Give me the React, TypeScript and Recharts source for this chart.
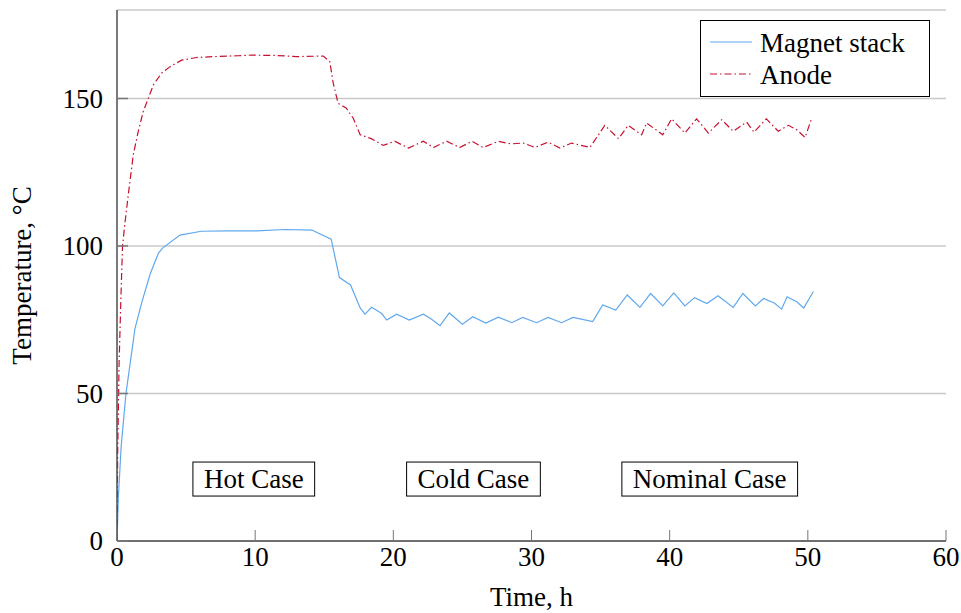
import React from 'react';
import { LineChart, Line, XAxis, YAxis, CartesianGrid, Legend, ReferenceDot } from 'recharts';

const magnetTime = [0, 0.1, 0.3, 0.65, 1.3, 1.8, 2.4, 3.0, 3.3, 4.56, 6.1, 8.0, 10.1, 12.2, 14.1, 15.5, 16.1, 16.9, 17.6, 17.95, 18.43, 19.16, 19.52, 20.24, 21.15, 22.17, 22.77, 23.38, 24.05, 25.0, 25.74, 26.7, 27.6, 28.57, 29.36, 30.37, 31.2, 32.18, 33.0, 34.43, 35.15, 36.1, 36.93, 37.85, 38.62, 39.5, 40.3, 41.1, 41.8, 42.7, 43.5, 44.6, 45.3, 46.2, 46.8, 47.6, 48.1, 48.5, 49.2, 49.7, 50.4];
const magnetTemp = [0, 15, 32, 50, 72, 81, 90.5, 97.6, 99.3, 103.7, 105, 105.1, 105.1, 105.6, 105.4, 102.3, 89.3, 86.8, 79, 76.9, 79.2, 77.1, 74.9, 76.9, 74.9, 76.9, 75.2, 73, 77.3, 73.5, 76, 73.9, 75.9, 74, 75.8, 74, 75.8, 74, 75.8, 74.4, 80, 78.3, 83.4, 79.2, 83.9, 79.7, 84.1, 79.7, 82.5, 80.5, 83.1, 79.2, 83.9, 79.7, 82.2, 80.6, 78.6, 82.8, 81.1, 79, 84.6];

const anodeTime = [0, 0.05, 0.15, 0.28, 0.4, 0.58, 0.82, 1.18, 1.54, 1.9, 2.27, 2.63, 3.23, 3.84, 4.68, 5.77, 6.97, 8.78, 9.75, 11.5, 13.0, 14.93, 15.4, 15.65, 16.0, 16.6, 17.1, 17.6, 18.4, 19.27, 20.1, 21.1, 22.17, 22.9, 23.86, 24.8, 25.7, 26.5, 27.6, 28.5, 29.4, 30.25, 31.2, 32.06, 32.9, 34.23, 35.3, 36.3, 37.0, 37.97, 38.33, 39.5, 40.14, 41.1, 41.95, 42.8, 43.77, 44.6, 45.57, 46.1, 47.0, 47.86, 48.6, 49.2, 49.8, 50.3];
const anodeTemp = [0, 30, 60, 82, 100, 108, 117.5, 131, 138.9, 145.6, 150.1, 154.6, 158.6, 160.8, 163, 163.9, 164.2, 164.5, 164.7, 164.6, 164.2, 164.4, 162.5, 155.2, 148.4, 146.7, 143.3, 137.7, 136.4, 134.1, 135.5, 133.2, 135.5, 133.4, 135.5, 133.4, 135.5, 133.4, 135.5, 134.6, 134.9, 133.4, 135.2, 133.2, 134.9, 133.4, 140.9, 136.4, 140.9, 137.7, 141.7, 137.7, 143.1, 138.3, 143.1, 138.3, 142.8, 138.9, 142, 138.6, 143.1, 138.9, 140.9, 139.4, 136.8, 143.6];

const xTicks = [0, 10, 20, 30, 40, 50, 60];
const yTicks = [0, 50, 100, 150];

const caseLabels = ['Hot Case', 'Cold Case', 'Nominal Case'];
const caseTimes = [9.9, 25.8, 42.9];
const caseTemps = [21, 21, 21];

const seriesNames = ['Magnet stack', 'Anode'];

const magnetData = magnetTime.map((t, i) => ({ time: t, temp: magnetTemp[i] }));
const anodeData = anodeTime.map((t, i) => ({ time: t, temp: anodeTemp[i] }));

const FONT = "'Liberation Serif', 'Times New Roman', serif";
const FS = 27;
const BLUE = '#5fa8ee';
const RED = '#c8102e';
const COLORS = [BLUE, RED];
const DASHES = ['', '7 3 1.5 3'];
const AXIS = '#4d4d4d';
const TICK_MARGIN = 4;

function measure(text: string): number {
  try {
    const c = document.createElement('canvas');
    const ctx = c.getContext('2d');
    if (ctx) {
      ctx.font = `${FS}px ${FONT}`;
      return ctx.measureText(text).width;
    }
  } catch (e) {}
  return text.length * FS * 0.45;
}

const XTick = (props: any) => {
  const { x, y, payload } = props;
  const axisY = y - TICK_MARGIN;
  return (
    <g>
      <line x1={x} x2={x} y1={axisY} y2={axisY - 11} stroke="#777" strokeWidth={1} />
      <text x={x} y={axisY + 25} textAnchor="middle" fontFamily={FONT} fontSize={FS} fill="#000">
        {payload.value}
      </text>
    </g>
  );
};

const YTick = (props: any) => {
  const { x, y, payload } = props;
  const axisX = x + TICK_MARGIN;
  return (
    <g>
      <line x1={axisX} x2={axisX + 11} y1={y} y2={y} stroke="#777" strokeWidth={1.5} />
      <text x={axisX - 14} y={y + 9} textAnchor="end" fontFamily={FONT} fontSize={FS} fill="#000">
        {payload.value}
      </text>
    </g>
  );
};

const CaseBox = (props: any) => {
  const { cx, cy, text } = props;
  if (cx == null || cy == null) return null;
  const w = measure(text) + 22;
  const h = 34;
  return (
    <g>
      <rect x={cx - w / 2} y={cy - h / 2} width={w} height={h} fill="#fff" stroke="#000" strokeWidth={1} />
      <text x={cx} y={cy + 9} textAnchor="middle" fontFamily={FONT} fontSize={FS} fill="#000">
        {text}
      </text>
    </g>
  );
};

const LegendBox = () => (
  <svg width={230} height={77} style={{ display: 'block' }}>
    <rect x={0.5} y={0.5} width={229} height={76} fill="#fff" stroke="#000" strokeWidth={1} />
    {seriesNames.map((name, i) => (
      <g key={name}>
        <line
          x1={10}
          x2={52}
          y1={22 + i * 32}
          y2={22 + i * 32}
          stroke={COLORS[i]}
          strokeWidth={1.2}
          strokeDasharray={DASHES[i] || undefined}
        />
        <text x={60} y={32 + i * 32} fontFamily={FONT} fontSize={FS} fill="#000">
          {name}
        </text>
      </g>
    ))}
  </svg>
);

const YLabel = (props: any) => {
  const vb = props.viewBox || {};
  const x = 22;
  const y = (vb.y || 0) + (vb.height || 0) / 2;
  return (
    <text
      x={x}
      y={y}
      transform={`rotate(-90, ${x}, ${y})`}
      textAnchor="middle"
      dominantBaseline="central"
      fontFamily={FONT}
      fontSize={FS}
      fill="#000"
    >
      Temperature, °C
    </text>
  );
};

const XLabel = (props: any) => {
  const vb = props.viewBox || {};
  const x = (vb.x || 0) + (vb.width || 0) / 2;
  return (
    <text x={x} y={606} textAnchor="middle" fontFamily={FONT} fontSize={FS} fill="#000">
      Time, h
    </text>
  );
};

export default function App() {
  return (
    <div style={{ position: 'absolute', left: 0, top: 0, background: '#fff' }}>
      <LineChart width={961} height={613} margin={{ top: 10, right: 15, left: 0, bottom: 0 }}>
        <CartesianGrid horizontal vertical={false} stroke="#c8c8c8" strokeWidth={1.5} />
        <XAxis
          dataKey="time"
          type="number"
          domain={[0, 60]}
          ticks={xTicks}
          allowDataOverflow
          height={72}
          tickSize={0}
          tickMargin={TICK_MARGIN}
          tickLine={false}
          axisLine={{ stroke: AXIS, strokeWidth: 1.5 }}
          tick={<XTick />}
          label={<XLabel />}
          interval={0}
        />
        <YAxis
          dataKey="temp"
          type="number"
          domain={[0, 180]}
          ticks={yTicks}
          allowDataOverflow
          width={117}
          tickSize={0}
          tickMargin={TICK_MARGIN}
          tickLine={false}
          axisLine={{ stroke: AXIS, strokeWidth: 1.5 }}
          tick={<YTick />}
          label={<YLabel />}
          interval={0}
        />
        <Line
          data={magnetData}
          dataKey="temp"
          name={seriesNames[0]}
          stroke={BLUE}
          strokeWidth={1.2}
          dot={false}
          activeDot={false}
          type="linear"
          isAnimationActive={false}
        />
        <Line
          data={anodeData}
          dataKey="temp"
          name={seriesNames[1]}
          stroke={RED}
          strokeWidth={1.2}
          strokeDasharray={DASHES[1]}
          dot={false}
          activeDot={false}
          type="linear"
          isAnimationActive={false}
        />
        {caseLabels.map((lab, i) => (
          <ReferenceDot
            key={lab}
            x={caseTimes[i]}
            y={caseTemps[i]}
            r={0}
            ifOverflow="visible"
            shape={(p: any) => <CaseBox cx={p.cx} cy={p.cy} text={lab} />}
          />
        ))}
        <Legend
          layout="vertical"
          align="center"
          verticalAlign="middle"
          content={<LegendBox />}
          wrapperStyle={{ left: 700, top: 20, width: 230, height: 77 }}
        />
      </LineChart>
    </div>
  );
}
